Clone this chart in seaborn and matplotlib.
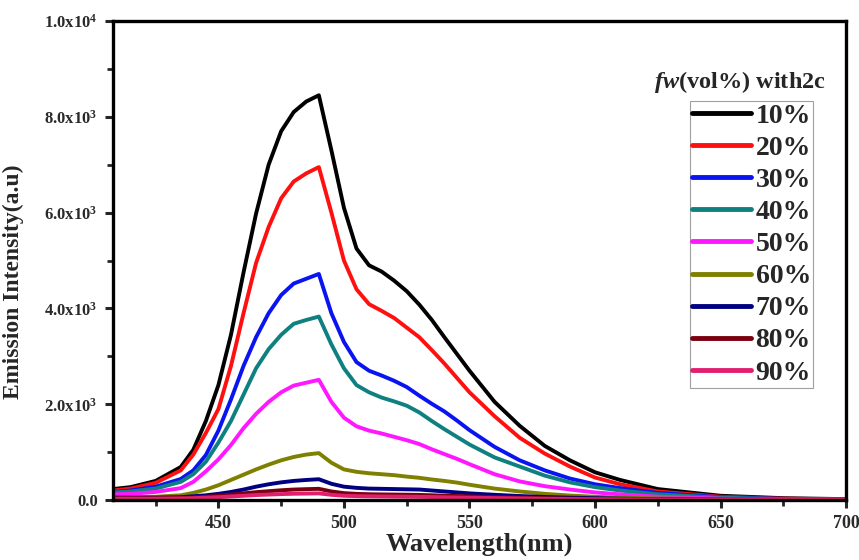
import numpy as np
import pandas as pd
import matplotlib
matplotlib.use("Agg")
import matplotlib.pyplot as plt
import seaborn as sns
from matplotlib.ticker import MultipleLocator, FixedLocator, FixedFormatter

wavelength = [408, 415, 425, 435, 440, 445, 450, 455, 460, 465, 470, 475, 480, 485, 490,
              495, 500, 505, 510, 515, 520, 525, 530, 535, 540, 545, 550, 560, 570, 580,
              590, 600, 610, 625, 650, 675, 700]

fw_10 = [230, 270, 400, 690, 1050, 1650, 2400, 3450, 4750, 5980, 7000, 7700, 8100, 8320, 8450,
         7300, 6100, 5250, 4900, 4770, 4580, 4360, 4080, 3760, 3400, 3050, 2700, 2050, 1550, 1130,
         830, 580, 420, 230, 90, 40, 20]
fw_20 = [200, 240, 360, 620, 950, 1400, 1900, 2800, 3900, 4950, 5700, 6300, 6650, 6820, 6950,
         6000, 5000, 4400, 4090, 3950, 3800, 3600, 3400, 3130, 2850, 2550, 2250, 1750, 1300, 970,
         700, 470, 330, 180, 70, 30, 15]
fw_30 = [170, 200, 280, 440, 620, 940, 1450, 2100, 2800, 3400, 3900, 4280, 4520, 4620, 4720,
         3900, 3300, 2880, 2700, 2600, 2490, 2360, 2180, 2010, 1850, 1660, 1460, 1110, 830, 620,
         450, 330, 250, 150, 60, 25, 10]
fw_40 = [160, 180, 240, 380, 540, 800, 1200, 1650, 2200, 2750, 3150, 3450, 3680, 3760, 3830,
         3250, 2750, 2400, 2250, 2140, 2060, 1970, 1830, 1650, 1480, 1320, 1160, 890, 700, 510,
         370, 270, 200, 120, 50, 20, 10]
fw_50 = [120, 130, 170, 250, 380, 600, 850, 1150, 1500, 1800, 2050, 2250, 2390, 2450, 2510,
         2050, 1720, 1540, 1450, 1390, 1320, 1250, 1170, 1060, 960, 860, 750, 540, 390, 290,
         220, 160, 120, 70, 30, 15, 10]
fw_60 = [60, 60, 70, 100, 150, 220, 310, 420, 530, 640, 740, 830, 900, 950, 980,
         780, 640, 590, 560, 540, 520, 490, 465, 430, 400, 365, 320, 240, 180, 130,
         95, 70, 50, 35, 20, 10, 5]
fw_70 = [50, 50, 50, 60, 80, 100, 130, 170, 220, 280, 330, 370, 400, 420, 435,
         340, 280, 255, 240, 235, 230, 225, 220, 200, 180, 160, 140, 110, 85, 65,
         50, 40, 30, 20, 10, 5, 5]
fw_80 = [40, 40, 40, 45, 55, 70, 90, 115, 140, 165, 185, 205, 220, 228, 235,
         180, 145, 130, 122, 118, 115, 112, 108, 100, 92, 85, 78, 62, 50, 40,
         32, 25, 20, 15, 8, 5, 5]
fw_90 = [30, 30, 30, 35, 40, 50, 60, 75, 90, 105, 115, 125, 132, 136, 140,
         110, 90, 82, 78, 75, 72, 70, 67, 63, 58, 54, 50, 42, 35, 28,
         23, 18, 15, 12, 8, 5, 5]

series_labels = ["10%", "20%", "30%", "40%", "50%", "60%", "70%", "80%", "90%"]
series_values = [fw_10, fw_20, fw_30, fw_40, fw_50, fw_60, fw_70, fw_80, fw_90]
colors = ["#000000", "#FF1010", "#0A14F0", "#0F8080", "#FF18FF", "#808000",
          "#000080", "#7A0010", "#E0206E"]

y_ticks = [0, 2000, 4000, 6000, 8000, 10000]
y_tick_labels = ["0.0", "2.0x10$^{3}$", "4.0x10$^{3}$", "6.0x10$^{3}$", "8.0x10$^{3}$", "1.0x10$^{4}$"]
x_ticks = [450, 500, 550, 600, 650, 700]

rows = []
for lab, vals in zip(series_labels, series_values):
    for w, v in zip(wavelength, vals):
        rows.append({"Wavelength": w, "Intensity": v, "fw": lab})
df = pd.DataFrame(rows)

sns.set_style("ticks")
plt.rcParams["font.family"] = ["Liberation Serif", "DejaVu Serif"]
plt.rcParams["font.weight"] = "bold"
plt.rcParams["mathtext.fontset"] = "custom"
plt.rcParams["mathtext.rm"] = "Liberation Serif:bold"
plt.rcParams["mathtext.it"] = "Liberation Serif:italic:bold"
plt.rcParams["mathtext.bf"] = "Liberation Serif:bold"
plt.rcParams["mathtext.default"] = "regular"

fig = plt.figure(figsize=(8.59, 5.60), dpi=100)
ax = fig.add_axes([0.1315, 0.107, 0.8535, 0.8555])

sns.lineplot(data=df, x="Wavelength", y="Intensity", hue="fw",
             hue_order=series_labels, palette=colors, linewidth=2.8,
             ax=ax, sort=False, estimator=None)

ax.set_xlim(408, 700)
ax.set_ylim(0, 10000)
ax.xaxis.set_major_locator(FixedLocator(x_ticks))
ax.xaxis.set_minor_locator(MultipleLocator(25))
ax.yaxis.set_major_locator(FixedLocator(y_ticks))
ax.yaxis.set_major_formatter(FixedFormatter(y_tick_labels))
ax.yaxis.set_minor_locator(MultipleLocator(1000))

for s in ax.spines.values():
    s.set_linewidth(2.4)
    s.set_color("black")
    s.set_visible(True)

ax.tick_params(axis="both", which="major", direction="out", length=6, width=2.2,
               labelcolor="#2a2a2a", pad=5)
ax.tick_params(axis="both", which="minor", direction="out", length=4, width=2.0)
ax.tick_params(top=False, right=False, which="both")
ax.tick_params(axis="y", labelsize=12)
ax.tick_params(axis="x", labelsize=13)
for lbl in ax.get_xticklabels() + ax.get_yticklabels():
    lbl.set_fontweight("bold")

ax.set_xlabel("Wavelength(nm)", fontsize=19, fontweight="bold", labelpad=0)
ax.set_ylabel("Emission Intensity(a.u)", fontsize=17, fontweight="bold")
ax.yaxis.set_label_coords(-0.122, 0.455)

handles, labels = ax.get_legend_handles_labels()
for h in handles:
    h.set_linewidth(3.5)
leg = ax.legend(handles, labels, loc="upper left", bbox_to_anchor=(0.787, 0.833),
                frameon=True, fancybox=False, edgecolor="#888888",
                prop={"family": "Liberation Serif", "weight": "bold", "size": 20},
                handlelength=2.1, handletextpad=0.18, labelspacing=0.24,
                borderpad=0.08, borderaxespad=0.0)
leg.get_frame().set_linewidth(0.8)

ax.text(0.855, 0.872, r"$\mathit{fw}$(vol%) with2c", transform=ax.transAxes,
        ha="center", va="center", fontsize=17.5, fontweight="bold")

fig.savefig("out.png", dpi=100)
